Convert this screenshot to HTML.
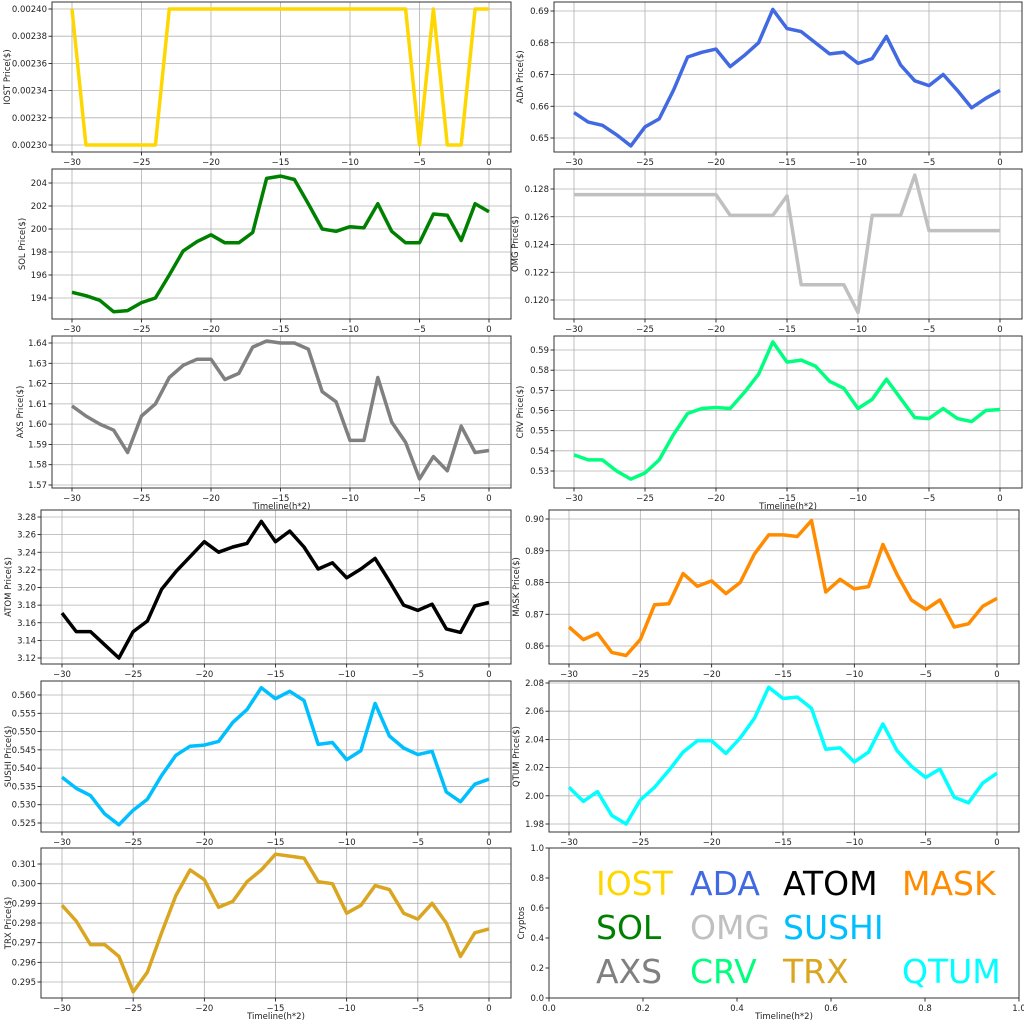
<!DOCTYPE html>
<html><head><meta charset="utf-8"><style>
body{margin:0;background:#fff}
svg{display:block;font-family:"DejaVu Sans","Liberation Sans",sans-serif}
</style></head><body>
<svg id="s" width="1024" height="1024" xmlns="http://www.w3.org/2000/svg"></svg>
<script>
const P=[
{l:52,t:2,r:511,b:152,x0:72,x1:489,v0:0.0024,p0:9,v1:0.0023,p1:145,ticks:[0.0023,0.00232,0.00234,0.00236,0.00238,0.0024],dec:5,lab:"IOST Price($)",lx:10,c:"#ffd700",
d:[240,230,230,230,230,230,230,240,240,240,240,240,240,240,240,240,240,240,240,240,240,240,240,240,240,230,240,230,230,240,240].map(v=>v/1e5)},
{l:52,t:169,r:511,b:319,x0:72,x1:489,v0:204,p0:183,v1:194,p1:298,ticks:[194,196,198,200,202,204],dec:0,lab:"SOL Price($)",lx:25,c:"#008000",
d:[194.5,194.2,193.8,192.8,192.9,193.6,194.0,196.0,198.1,198.9,199.5,198.8,198.8,199.7,204.4,204.6,204.3,202.2,200.0,199.8,200.2,200.1,202.2,199.8,198.8,198.8,201.3,201.2,199.0,202.2,201.5]},
{l:52,t:336,r:511,b:488,x0:72,x1:489,v0:1.64,p0:343,v1:1.57,p1:485,ticks:[1.57,1.58,1.59,1.6,1.61,1.62,1.63,1.64],dec:2,lab:"AXS Price($)",lx:23,c:"#808080",xl:true,
d:[1.609,1.604,1.6,1.597,1.586,1.604,1.61,1.623,1.629,1.632,1.632,1.622,1.625,1.638,1.641,1.64,1.64,1.637,1.616,1.611,1.592,1.592,1.623,1.601,1.591,1.573,1.584,1.577,1.599,1.586,1.587]},
{l:554,t:2,r:1022,b:152,x0:574,x1:1000,v0:0.69,p0:11,v1:0.65,p1:138,ticks:[0.65,0.66,0.67,0.68,0.69],dec:2,lab:"ADA  Price($)",lx:523,c:"#4169e1",
d:[.658,.655,.654,.651,.6475,.6535,.656,.665,.6755,.677,.678,.6725,.676,.68,.6905,.6845,.6835,.68,.6765,.677,.6735,.675,.682,.673,.668,.6665,.67,.665,.6595,.6625,.665]},
{l:554,t:169,r:1022,b:319,x0:574,x1:1000,v0:0.128,p0:189,v1:0.12,p1:300,ticks:[0.12,0.122,0.124,0.126,0.128],dec:3,lab:"OMG  Price($)",lx:518,c:"#c0c0c0",
d:[.1276,.1276,.1276,.1276,.1276,.1276,.1276,.1276,.1276,.1276,.1276,.1261,.1261,.1261,.1261,.1275,.1211,.1211,.1211,.1211,.1191,.1261,.1261,.1261,.129,.125,.125,.125,.125,.125,.125]},
{l:554,t:336,r:1022,b:488,x0:574,x1:1000,v0:0.59,p0:350,v1:0.53,p1:471,ticks:[0.53,0.54,0.55,0.56,0.57,0.58,0.59],dec:2,lab:"CRV  Price($)",lx:523,c:"#00ff7f",xl:true,
d:[.538,.5355,.5355,.53,.526,.529,.5355,.548,.5585,.561,.5615,.561,.569,.578,.594,.584,.585,.582,.5745,.571,.561,.5655,.5755,.566,.5565,.556,.561,.556,.5545,.56,.5605]},
{l:41,t:510,r:511,b:664,x0:62,x1:489,v0:3.28,p0:517,v1:3.12,p1:658,ticks:[3.12,3.14,3.16,3.18,3.2,3.22,3.24,3.26,3.28],dec:2,lab:"ATOM  Price($)",lx:11,c:"#000000",
d:[3.171,3.15,3.15,3.135,3.12,3.15,3.162,3.198,3.218,3.235,3.252,3.24,3.246,3.25,3.275,3.252,3.264,3.246,3.221,3.228,3.211,3.221,3.233,3.207,3.18,3.174,3.181,3.153,3.149,3.179,3.183]},
{l:549,t:510,r:1019,b:664,x0:569,x1:997,v0:0.9,p0:519,v1:0.86,p1:646,ticks:[0.86,0.87,0.88,0.89,0.9],dec:2,lab:"MASK  Price($)",lx:519,c:"#ff8c00",
d:[.866,.862,.864,.858,.857,.862,.873,.8733,.8828,.8788,.8805,.8765,.88,.889,.895,.895,.8945,.8995,.877,.881,.878,.8787,.892,.8825,.8745,.8715,.8745,.866,.867,.8725,.875]},
{l:41,t:681,r:511,b:832,x0:62,x1:489,v0:0.56,p0:695,v1:0.525,p1:823,ticks:[0.525,0.53,0.535,0.54,0.545,0.55,0.555,0.56],dec:3,lab:"SUSHI  Price($)",lx:11,c:"#00bfff",
d:[.5375,.5345,.5325,.5275,.5245,.5285,.5315,.538,.5435,.546,.5463,.5473,.5525,.556,.562,.559,.561,.5585,.5465,.547,.5423,.5448,.5577,.5488,.5455,.5437,.5446,.5335,.5308,.5356,.537]},
{l:549,t:681,r:1019,b:832,x0:569,x1:997,v0:2.08,p0:683,v1:1.98,p1:824,ticks:[1.98,2.0,2.02,2.04,2.06,2.08],dec:2,lab:"QTUM  Price($)",lx:519,c:"#00ffff",
d:[2.006,1.996,2.003,1.986,1.98,1.997,2.006,2.018,2.031,2.039,2.039,2.03,2.041,2.055,2.077,2.069,2.07,2.062,2.033,2.034,2.024,2.031,2.051,2.032,2.021,2.013,2.019,1.999,1.995,2.009,2.016]},
{l:41,t:848,r:511,b:998,x0:62,x1:489,v0:0.301,p0:864,v1:0.295,p1:982,ticks:[0.295,0.296,0.297,0.298,0.299,0.3,0.301],dec:3,lab:"TRX  Price($)",lx:11,c:"#daa520",xl:true,
d:[.2989,.2981,.2969,.2969,.2963,.2945,.2955,.2975,.2994,.3007,.3002,.2988,.2991,.3001,.3007,.3015,.3014,.3013,.3001,.3,.2985,.2989,.2999,.2997,.2985,.2982,.299,.298,.2963,.2975,.2977]}
];
let h='';
const FS=8.5;
const num=(v,d)=>{let s=v.toFixed(d);return s.replace('-','\u2212');};
for(const p of P){
  const X=x=>p.x0+(x+30)*(p.x1-p.x0)/30;
  const Y=v=>p.p0+(v-p.v0)*(p.p1-p.p0)/(p.v1-p.v0);
  for(let x=-30;x<=0;x+=5){const px=X(x);h+=`<line x1="${px}" y1="${p.t}" x2="${px}" y2="${p.b}" stroke="#b0b0b0" stroke-width="0.8"/>`;
    h+=`<line x1="${px}" y1="${p.b}" x2="${px}" y2="${p.b+3.5}" stroke="#000" stroke-width="0.8"/>`;
    h+=`<text x="${px}" y="${p.b+13}" font-size="${FS}" text-anchor="middle" fill="#222">${x<0?'\u2212'+(-x):x}</text>`;}
  for(const v of p.ticks){const py=Y(v);h+=`<line x1="${p.l}" y1="${py}" x2="${p.r}" y2="${py}" stroke="#b0b0b0" stroke-width="0.8"/>`;
    h+=`<line x1="${p.l-3.5}" y1="${py}" x2="${p.l}" y2="${py}" stroke="#000" stroke-width="0.8"/>`;
    h+=`<text x="${p.l-5}" y="${py+3}" font-size="${FS}" text-anchor="end" fill="#222">${num(v,p.dec)}</text>`;}
  const pts=p.d.map((v,i)=>X(i-30).toFixed(1)+','+Y(v).toFixed(1)).join(' ');
  h+=`<polyline points="${pts}" fill="none" stroke="${p.c}" stroke-width="3.5" stroke-linejoin="round"/>`;
  h+=`<rect x="${p.l}" y="${p.t}" width="${p.r-p.l}" height="${p.b-p.t}" fill="none" stroke="#333" stroke-width="1"/>`;
  const cy=(p.t+p.b)/2;
  h+=`<text transform="translate(${p.lx},${cy}) rotate(-90)" font-size="${FS}" text-anchor="middle" fill="#222">${p.lab}</text>`;
  if(p.xl)h+=`<text x="${(p.l+p.r)/2}" y="${p.b+21}" font-size="${FS}" text-anchor="middle" fill="#222">Timeline(h*2)</text>`;
}
{const l=549,t=848,r=1019,b=998;
 for(let i=0;i<=5;i++){const v=i/5,px=l+v*(r-l),py=b-v*(b-t);
  h+=`<line x1="${px}" y1="${b}" x2="${px}" y2="${b+3.5}" stroke="#000" stroke-width="0.8"/><text x="${px}" y="${b+13}" font-size="${FS}" text-anchor="middle" fill="#222">${v.toFixed(1)}</text>`;
  h+=`<line x1="${l-3.5}" y1="${py}" x2="${l}" y2="${py}" stroke="#000" stroke-width="0.8"/><text x="${l-5}" y="${py+3}" font-size="${FS}" text-anchor="end" fill="#222">${v.toFixed(1)}</text>`;}
 h+=`<rect x="${l}" y="${t}" width="${r-l}" height="${b-t}" fill="none" stroke="#333" stroke-width="1"/>`;
 h+=`<text transform="translate(524,${(t+b)/2}) rotate(-90)" font-size="${FS}" text-anchor="middle" fill="#222">Cryptos</text>`;
 h+=`<text x="${(l+r)/2}" y="${b+21}" font-size="${FS}" text-anchor="middle" fill="#222">Timeline(h*2)</text>`;
 const L=[["IOST",596,895,"#ffd700"],["ADA",690,895,"#4169e1"],["ATOM",783,895,"#000"],["MASK",902,895,"#ff8c00"],
 ["SOL",596,939,"#008000"],["OMG",690,939,"#c0c0c0"],["SUSHI",783,939,"#00bfff"],
 ["AXS",596,983,"#808080"],["CRV",690,983,"#00ff7f"],["TRX",783,983,"#daa520"],["QTUM",902,983,"#00ffff"]];
 for(const [s,x,y,c] of L)h+=`<text x="${x}" y="${y}" font-size="33" fill="${c}">${s}</text>`;
}
document.getElementById('s').innerHTML=h;
</script>
</body></html>
